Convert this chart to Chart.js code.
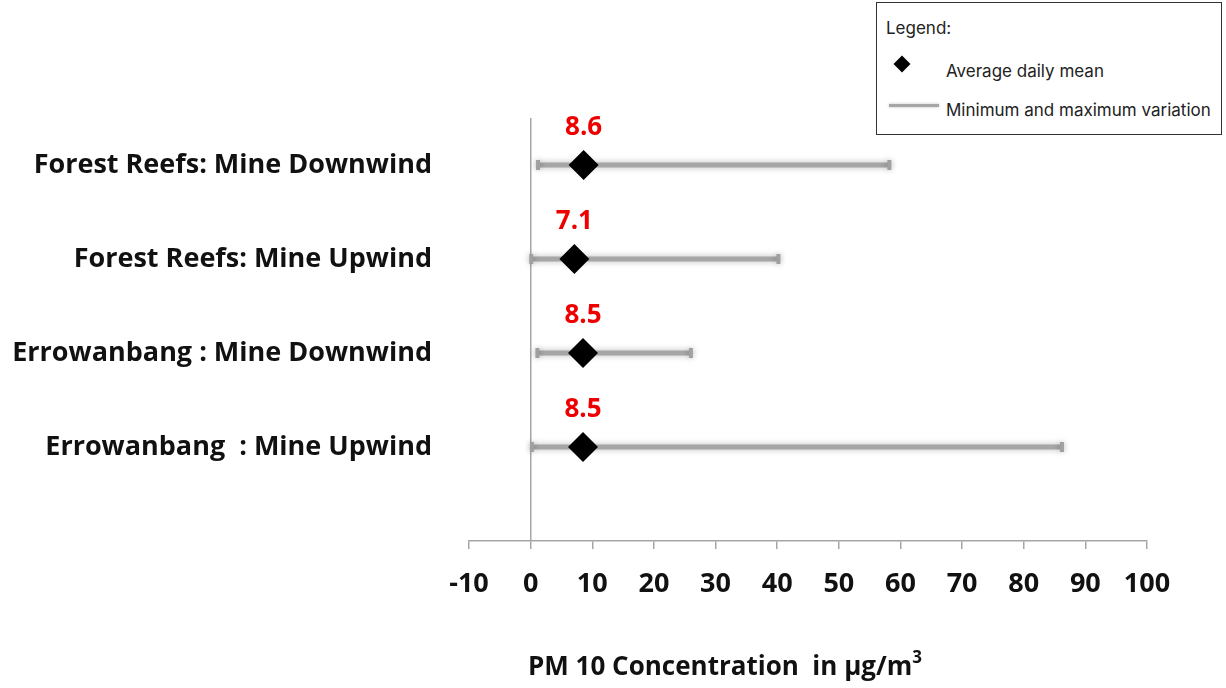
<!DOCTYPE html>
<html>
<head>
<meta charset="utf-8">
<script src="https://cdn.jsdelivr.net/npm/chart.js@4.4.1/dist/chart.umd.min.js"></script>
<style>
  html, body { margin: 0; padding: 0; background: #fff; }
  #wrap { position: relative; width: 1226px; height: 688px; }
  #c { position: absolute; left: 0; top: 0; }
  #legend { position: absolute; left: 876px; top: 2px; width: 346px; height: 133px; border: 1px solid #333; box-sizing: border-box; font-family: Inter, "Open Sans", sans-serif; font-size: 17px; color: #222; background: #fff; }
  #legend .t { position: absolute; left: 9px; top: 15px; }
  #legend .dia { position: absolute; left: 19px; top: 55px; width: 12px; height: 12px; background: #000; transform: rotate(45deg); }
  #legend .l1 { position: absolute; left: 69px; top: 58px; }
  #legend .ln { position: absolute; left: 12px; top: 101px; width: 50px; height: 3px; background: #a6a6a6; box-shadow: 0 0 3px rgba(0,0,0,0.25); }
  #legend .l2 { position: absolute; left: 69px; top: 97px; }
  #xtitle { position: absolute; left: 725px; top: 647px; transform: translateX(-50%); font-family: "Open Sans", Lato, sans-serif; font-weight: bold; font-size: 26px; color: #111; white-space: nowrap; }
  #xtitle sup { font-size: 17px; position: relative; top: -2px; }
</style>
</head>
<body>
<div id="wrap">
  <canvas id="c" width="1226" height="688"></canvas>
  <div id="legend">
    <div class="t">Legend:</div>
    <div class="dia"></div>
    <div class="l1">Average daily mean</div>
    <div class="ln"></div>
    <div class="l2">Minimum and maximum variation</div>
  </div>
  <div id="xtitle">PM 10 Concentration&nbsp; in µg/m<sup>3</sup></div>
</div>
<script>
const categories = [
  "Forest Reefs: Mine Downwind",
  "Forest Reefs: Mine Upwind",
  "Errowanbang : Mine Downwind",
  "Errowanbang  : Mine Upwind"
];
const rowPositions = [1, 2, 3, 4];
const meanValues = [8.6, 7.1, 8.5, 8.5];
const minValues = [1.2, 0.1, 1.1, 0.2];
const maxValues = [58.2, 40.2, 26.0, 86.2];
const xTicks = [-10, 0, 10, 20, 30, 40, 50, 60, 70, 80, 90, 100];

const rangeDatasets = categories.map((c, i) => ({
  type: 'scatter',
  label: 'range ' + c,
  data: [{x: minValues[i], y: rowPositions[i]}, {x: maxValues[i], y: rowPositions[i]}],
  showLine: true,
  borderColor: '#a6a6a6',
  borderWidth: 5,
  pointStyle: 'line',
  rotation: 90,
  pointRadius: 5,
  pointBorderWidth: 4,
  pointBorderColor: '#a0a0a0',
  pointBackgroundColor: '#a0a0a0',
  order: 2,
  isRange: true
}));

const meanDataset = {
  type: 'scatter',
  label: 'Average daily mean',
  data: meanValues.map((v, i) => ({x: v, y: rowPositions[i]})),
  pointStyle: 'rectRot',
  pointRadius: 15,
  pointBackgroundColor: '#000',
  pointBorderColor: '#000',
  pointBorderWidth: 0,
  order: 0
};

const shadowPlugin = {
  id: 'shadow',
  beforeDatasetDraw(chart, args) {
    const ds = chart.data.datasets[args.index];
    chart.ctx.save();
    if (ds.isRange) {
      chart.ctx.shadowColor = 'rgba(0,0,0,0.28)';
      chart.ctx.shadowBlur = 6;
    }
  },
  afterDatasetDraw(chart) {
    chart.ctx.restore();
  }
};

const valueLabels = {
  id: 'valueLabels',
  afterDatasetsDraw(chart) {
    const ctx = chart.ctx;
    const xs = chart.scales.x, ys = chart.scales.y;
    ctx.save();
    ctx.fillStyle = '#ee0000';
    ctx.font = 'bold 26px "Open Sans", Lato, sans-serif';
    ctx.textAlign = 'center';
    ctx.textBaseline = 'middle';
    meanValues.forEach((v, i) => {
      const px = xs.getPixelForValue(v);
      const py = ys.getPixelForValue(rowPositions[i]);
      ctx.fillText(v.toFixed(1), px, py - 37);
    });
    ctx.restore();
  }
};

new Chart(document.getElementById('c'), {
  type: 'scatter',
  data: { datasets: [...rangeDatasets, meanDataset] },
  options: {
    responsive: false,
    animation: false,
    events: [],
    layout: { padding: { left: 0, right: 79, top: 118, bottom: 0 } },
    plugins: { legend: { display: false }, tooltip: { enabled: false } },
    scales: {
      x: {
        type: 'linear',
        min: -10, max: 100,
        afterBuildTicks(scale) { scale.ticks = xTicks.map(v => ({value: v})); },
        afterFit(scale) { scale.height = 147; },
        border: { display: true, color: '#a6a6a6', width: 1.5 },
        grid: {
          drawOnChartArea: true,
          drawTicks: true,
          tickLength: 8,
          tickColor: '#a6a6a6',
          tickWidth: 1.5,
          lineWidth: 1.5,
          color: (ctx) => (ctx.tick && ctx.tick.value === 0) ? '#a6a6a6' : 'rgba(0,0,0,0)'
        },
        ticks: {
          padding: 19,
          color: '#111',
          font: { family: '"Open Sans", Lato, sans-serif', weight: 'bold', size: 27 }
        }
      },
      y: {
        type: 'linear',
        min: 0.5, max: 5,
        reverse: true,
        afterBuildTicks(scale) { scale.ticks = rowPositions.map(v => ({value: v})); },
        afterFit(scale) { scale.width = 469; },
        border: { display: false },
        grid: { display: false, drawTicks: false, tickLength: 0 },
        ticks: {
          padding: 37,
          color: '#111',
          font: { family: '"Open Sans", Lato, sans-serif', weight: 'bold', size: 27 },
          callback: (v) => categories[rowPositions.indexOf(v)] || ''
        }
      }
    }
  },
  plugins: [shadowPlugin, valueLabels]
});
</script>
</body>
</html>
